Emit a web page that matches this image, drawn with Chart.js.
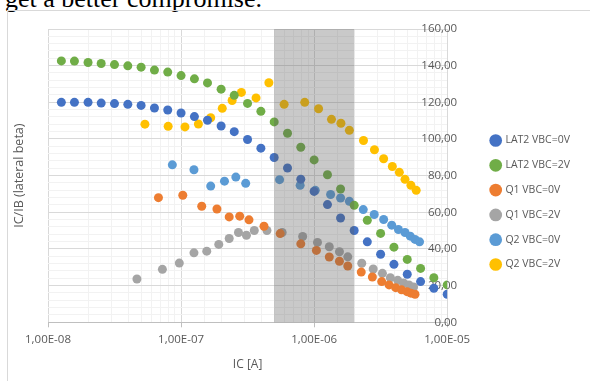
<!DOCTYPE html>
<html>
<head>
<meta charset="utf-8">
<script src="https://cdn.jsdelivr.net/npm/chart.js@4.4.1/dist/chart.umd.min.js"></script>
<style>
  html, body { margin: 0; padding: 0; background: #fff; overflow: hidden; }
  #wrap { position: relative; width: 590px; height: 381px; }
  #caption { position: absolute; left: 5px; top: -14px; font: 26px/1 "Liberation Serif", "Times New Roman", serif; color: #000; white-space: nowrap; }
  #frame { position: absolute; left: 7px; top: 10px; width: 700px; height: 500px; border-left: 1px solid #d9d9d9; border-top: 1px solid #d9d9d9; }
  #chart { position: absolute; left: 0; top: 0; }
</style>
</head>
<body>
<div id="wrap">
  <div id="caption">get a better compromise.</div>
  <div id="frame"></div>
  <canvas id="chart" width="590" height="381"></canvas>
</div>
<script>
// values (IC in A, beta)
const lat2v0X = [1.26e-8, 1.58e-8, 2.0e-8, 2.51e-8, 3.16e-8, 3.98e-8, 5.01e-8, 6.31e-8, 7.94e-8, 1.0e-7,
    1.26e-7, 1.58e-7, 2.0e-7, 2.51e-7, 3.16e-7, 3.98e-7, 5.01e-7, 6.31e-7, 7.94e-7, 1.0e-6,
    1.26e-6, 1.58e-6, 2.0e-6, 2.51e-6, 3.16e-6, 3.98e-6, 5.01e-6, 6.31e-6, 7.94e-6, 1.0e-5];
const lat2v0Y = [120.0, 120.0, 120.0, 119.6, 119.3, 118.9, 118.3, 116.9, 115.8, 114.2,
    112.2, 110.2, 107.1, 104.0, 99.7, 95.0, 89.9, 84.2, 78.1, 71.4,
    64.2, 56.9, 50.1, 43.9, 37.1, 31.6, 26.2, 22.2, 18.6, 15.3];

const lat2v2X = lat2v0X;
const lat2v2Y = [142.6, 142.5, 141.7, 141.2, 140.6, 139.9, 139.2, 137.6, 136.5, 134.6,
    132.8, 130.6, 127.2, 123.8, 119.4, 115.1, 109.3, 103.1, 95.5, 88.6,
    80.5, 72.7, 63.8, 55.7, 48.5, 41.0, 34.3, 29.4, 24.3, 20.4];

const q1v0X = [6.76e-8, 1.03e-7, 1.43e-7, 1.86e-7, 2.30e-7, 2.76e-7, 3.24e-7, 4.2e-7, 5.56e-7, 7.94e-7,
    1.04e-6, 1.30e-6, 1.55e-6, 1.79e-6, 2.26e-6, 2.74e-6, 3.22e-6, 3.66e-6, 4.10e-6, 4.54e-6,
    4.99e-6, 5.34e-6, 5.73e-6];
const q1v0Y = [68.0, 69.3, 63.3, 61.8, 57.5, 57.9, 55.9, 52.4, 48.4, 42.8,
    39.2, 35.6, 33.3, 30.7, 27.4, 24.7, 22.2, 20.4, 18.9, 17.7,
    16.7, 15.9, 15.3];

const q1v2X = [4.66e-8, 7.24e-8, 9.7e-8, 1.25e-7, 1.56e-7, 1.92e-7, 2.30e-7, 2.70e-7, 3.10e-7, 3.55e-7,
    4.42e-7, 5.75e-7, 8.2e-7, 1.06e-6, 1.30e-6, 1.55e-6, 1.79e-6, 2.28e-6, 2.78e-6, 3.26e-6,
    3.74e-6, 4.25e-6, 4.70e-6, 5.16e-6, 5.59e-6];
const q1v2Y = [23.6, 28.9, 32.3, 37.9, 38.8, 42.5, 45.7, 49.0, 47.5, 50.1,
    50.1, 49.0, 46.8, 43.6, 41.2, 38.5, 35.7, 32.2, 29.1, 26.7,
    24.3, 22.9, 21.5, 20.4, 19.3];

const q2v0X = [8.6e-8, 1.25e-7, 1.67e-7, 2.12e-7, 2.58e-7, 3.06e-7, 5.5e-7, 7.85e-7, 1.02e-6, 1.33e-6,
    1.58e-6, 1.84e-6, 2.34e-6, 2.83e-6, 3.33e-6, 3.83e-6, 4.3e-6, 4.82e-6, 5.28e-6, 5.73e-6,
    6.2e-6];
const q2v0Y = [85.9, 83.2, 74.3, 77.0, 79.2, 75.8, 77.8, 74.7, 72.0, 69.7,
    67.8, 66.0, 61.5, 58.8, 56.1, 53.0, 50.6, 49.0, 47.0, 45.2,
    43.9];

const q2v2X = [5.35e-8, 8.0e-8, 1.07e-7, 1.35e-7, 1.67e-7, 2.04e-7, 2.42e-7, 2.84e-7, 3.66e-7, 4.57e-7,
    5.95e-7, 8.5e-7, 1.08e-6, 1.35e-6, 1.59e-6, 1.84e-6, 2.35e-6, 2.84e-6, 3.33e-6, 3.87e-6,
    4.37e-6, 4.82e-6, 5.34e-6, 5.85e-6];
const q2v2Y = [108.1, 106.9, 106.6, 108.2, 111.6, 116.7, 121.0, 125.4, 122.4, 130.7,
    118.9, 120.0, 116.5, 110.7, 108.6, 104.7, 99.2, 94.1, 89.2, 85.0,
    81.8, 78.0, 74.7, 72.0];

const seriesNames = ['LAT2 VBC=0V', 'LAT2 VBC=2V', 'Q1 VBC=0V', 'Q1 VBC=2V', 'Q2 VBC=0V', 'Q2 VBC=2V'];
const seriesColors = ['#4472c4', '#70ad47', '#ed7d31', '#a5a5a5', '#5b9bd5', '#ffc000'];
const seriesX = [lat2v0X, lat2v2X, q1v0X, q1v2X, q2v0X, q2v2X];
const seriesY = [lat2v0Y, lat2v2Y, q1v0Y, q1v2Y, q2v0Y, q2v2Y];

// shaded window on the current axis
const bandFrom = 5e-7;
const bandTo = 2e-6;

const textColor = '#595959';
const fontFamily = '"Open Sans", "Liberation Sans", sans-serif';

const datasets = seriesNames.map((name, i) => ({
    label: name,
    data: seriesX[i].map((x, j) => ({ x: x, y: seriesY[i][j] })),
    backgroundColor: seriesColors[i],
    borderColor: seriesColors[i],
    borderWidth: 0,
    pointRadius: 4.5,
    pointHoverRadius: 4.5,
    pointStyle: 'circle'
}));

const bandPlugin = {
    id: 'band',
    afterDatasetsDraw(chart) {
        const { ctx, chartArea, scales } = chart;
        const x1 = scales.x.getPixelForValue(bandFrom);
        const x2 = scales.x.getPixelForValue(bandTo);
        ctx.save();
        ctx.fillStyle = 'rgba(90, 90, 90, 0.33)';
        ctx.fillRect(x1, chartArea.top, x2 - x1, chartArea.bottom - chartArea.top);
        ctx.restore();
    }
};

function isDecade(v) {
    const l = Math.log10(v);
    return Math.abs(l - Math.round(l)) < 1e-6;
}

function formatSci(v) {
    const e = Math.round(Math.log10(v));
    return '1,00E' + (e < 0 ? '-' : '+') + String(Math.abs(e)).padStart(2, '0');
}

new Chart(document.getElementById('chart'), {
    type: 'scatter',
    data: { datasets: datasets },
    plugins: [bandPlugin],
    options: {
        responsive: false,
        animation: false,
        events: [],
        layout: { padding: { left: 8, top: 29, right: 10, bottom: 5 } },
        plugins: {
            tooltip: { enabled: false },
            legend: {
                position: 'right',
                maxWidth: 140,
                labels: {
                    usePointStyle: true,
                    boxWidth: 9,
                    boxHeight: 9,
                    padding: 14.3,
                    color: textColor,
                    font: { family: fontFamily, size: 10.5 }
                }
            }
        },
        scales: {
            x: {
                type: 'logarithmic',
                min: 1e-8,
                max: 1e-5,
                grid: {
                    color: ctx => (ctx.tick && isDecade(ctx.tick.value)) ? '#d9d9d9' : '#f2f2f2',
                    tickColor: ctx => (ctx.tick && isDecade(ctx.tick.value)) ? '#bfbfbf' : 'rgba(0,0,0,0)',
                    tickLength: 5
                },
                border: { color: '#bfbfbf' },
                ticks: {
                    autoSkip: false,
                    maxRotation: 0,
                    padding: 6,
                    color: textColor,
                    font: { family: fontFamily, size: 11.5 },
                    callback: v => isDecade(v) ? formatSci(v) : ''
                },
                title: {
                    display: true,
                    text: 'IC [A]',
                    color: textColor,
                    font: { family: fontFamily, size: 12 },
                    padding: { top: 4.5, bottom: 4 }
                }
            },
            y: {
                type: 'linear',
                position: 'right',
                min: 0,
                max: 160,
                afterFit: scale => { scale.width = 29.7; },
                grid: {
                    color: ctx => (ctx.tick && ctx.tick.value % 20 === 0) ? '#d9d9d9' : '#f2f2f2',
                    drawTicks: false
                },
                border: { color: '#d9d9d9' },
                ticks: {
                    stepSize: 4,
                    autoSkip: false,
                    mirror: true,
                    padding: 10,
                    color: textColor,
                    font: { family: fontFamily, size: 11.5 },
                    callback: v => v % 20 === 0 ? v.toFixed(2).replace('.', ',') : ''
                }
            },
            yTitle: {
                type: 'linear',
                position: 'left',
                min: 0,
                max: 160,
                afterFit: scale => { scale.width = 40; },
                grid: { display: false, drawTicks: false },
                border: { display: false },
                ticks: { display: false },
                title: {
                    display: true,
                    text: 'IC/IB (lateral beta)',
                    color: textColor,
                    font: { family: fontFamily, size: 12.5 },
                    padding: { top: 4, bottom: 4 }
                }
            }
        }
    }
});
</script>
</body>
</html>
